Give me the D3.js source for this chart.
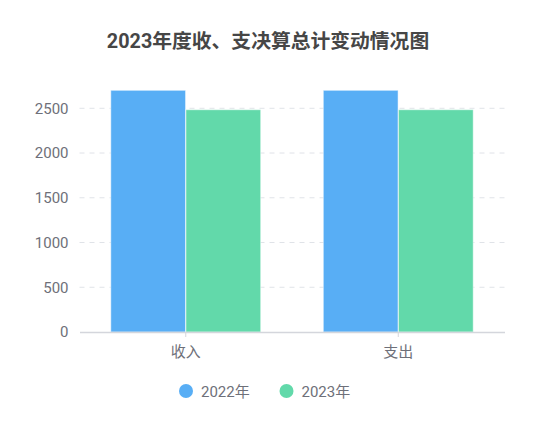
<!DOCTYPE html>
<html><head><meta charset="utf-8">
<script src="https://cdn.jsdelivr.net/npm/d3@7"></script>
<style>body{margin:0;background:#fff}</style>
</head><body>
<svg id="c" width="534" height="434"></svg>
<script>
const categories = ["收入", "支出"];
const seriesNames = ["2022年", "2023年"];
const values2022 = [2701, 2701];
const values2023 = [2484, 2484];
const yTicks = [0, 500, 1000, 1500, 2000, 2500];
const colors = ["#58aef5", "#62d9aa"];
const title = "2023年度收、支决算总计变动情况图";

const svg = d3.select("#c");
const font = "Roboto, 'Noto Sans CJK SC', sans-serif";
const m = {l: 79.5, r: 504.5, t: 90.3, b: 332};
const series = [values2022, values2023];
const ymax = d3.max(series.flat());
const yS = d3.scaleLinear().domain([0, ymax]).range([m.b, m.t]);
const x0 = d3.scaleBand().domain(categories).range([m.l, m.r]).paddingInner(0).paddingOuter(0);
const x1 = d3.scaleBand().domain(seriesNames).range([31.3, x0.bandwidth() - 31.3]).paddingInner(0.005);

svg.append("text").attr("x", 268).attr("y", 48).attr("text-anchor", "middle")
  .attr("font-family", font).attr("font-weight", "bold").attr("font-size", 19.8).attr("fill", "#464646").text(title);

// grid
svg.append("g").selectAll("line").data(yTicks.filter(d => d > 0)).join("line")
  .attr("x1", m.l).attr("x2", m.r).attr("y1", d => yS(d)).attr("y2", d => yS(d))
  .attr("stroke", "#e0e3e8").attr("stroke-dasharray", "5,5");

// y labels
const yAxis = d3.axisLeft(yS).tickValues(yTicks).tickSize(0).tickPadding(11).tickFormat(d3.format("d"));
const ga = svg.append("g").attr("transform", `translate(${m.l},0)`).call(yAxis);
ga.select(".domain").remove();
ga.selectAll("text").attr("font-family", font).attr("font-size", 15).attr("fill", "#6e7079");

// bars
categories.forEach((c, i) => {
  series.forEach((s, j) => {
    svg.append("rect")
      .attr("x", x0(c) + x1(seriesNames[j]))
      .attr("y", yS(s[i]))
      .attr("width", x1.bandwidth())
      .attr("height", yS(0) - yS(s[i]))
      .attr("fill", colors[j]).attr("stroke", "#ffffff").attr("stroke-opacity", 0.5).attr("stroke-width", 1);
  });
});

// x axis
const xAxis = d3.axisBottom(x0).tickSize(0).tickPadding(14);
const gx = svg.append("g").attr("transform", `translate(0,${m.b})`).call(xAxis);
gx.select(".domain").attr("stroke", "#d4d6dc").attr("stroke-width", 1.5);
gx.selectAll("text").attr("font-family", font).attr("font-size", 15).attr("fill", "#6e7079");
svg.append("g").selectAll("line").data(categories).join("line")
  .attr("x1", d => x0(d) + x0.bandwidth() / 2).attr("x2", d => x0(d) + x0.bandwidth() / 2)
  .attr("y1", m.b).attr("y2", m.b + 5).attr("stroke", "#d4d6dc");

// legend
const lg = svg.append("g");
const legX = [186, 286.5];
seriesNames.forEach((n, j) => {
  lg.append("circle").attr("cx", legX[j]).attr("cy", 391).attr("r", 7).attr("fill", colors[j]);
  lg.append("text").attr("x", legX[j] + 15).attr("y", 396.5).attr("font-family", font)
    .attr("font-size", 15).attr("fill", "#6e7079").text(n);
});
</script>
</body></html>
